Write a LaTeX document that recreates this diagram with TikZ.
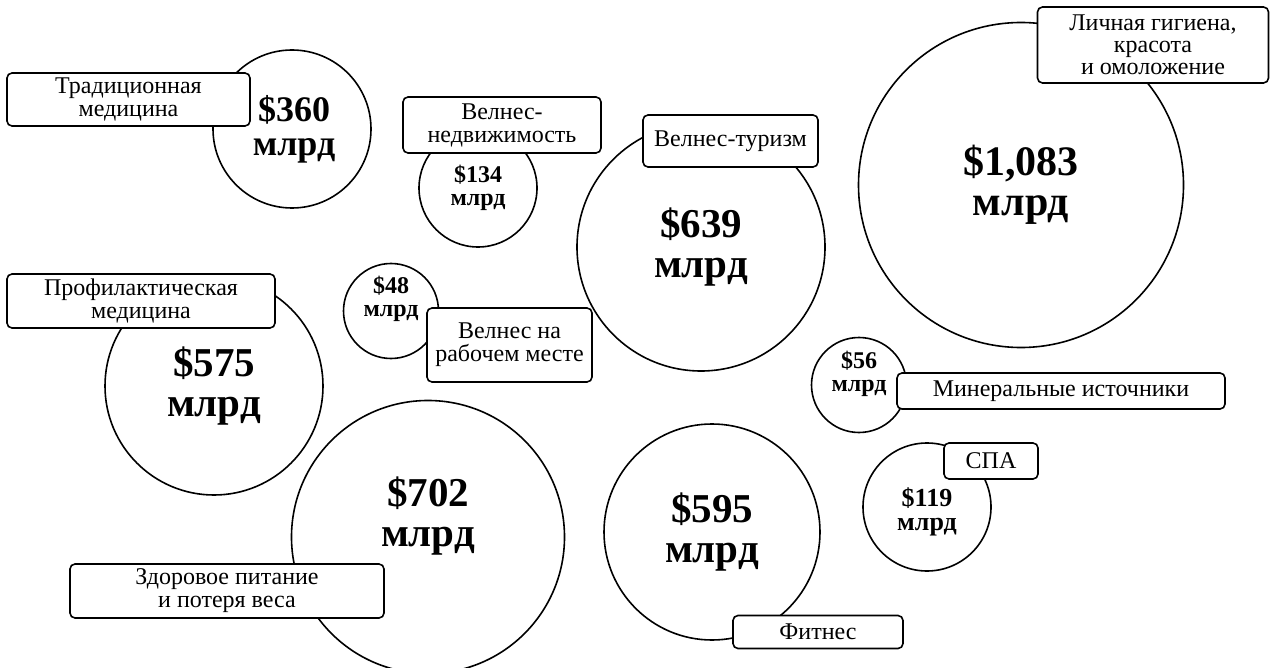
\documentclass[tikz,border=0pt]{standalone}
\usepackage{fontspec}
\setmainfont{Liberation Serif}
\usepackage{tikz}

\begin{document}
\begin{tikzpicture}[x=1pt,y=-1pt]
    \tikzstyle{bubble}=[circle, draw, line width=1.6pt, fill=white, inner sep=0pt]
    \tikzstyle{bigsum}=[align=center, inner sep=0pt, font=\bfseries\fontsize{41}{40}\selectfont]
    \tikzstyle{smallsum}=[align=center, inner sep=0pt, font=\bfseries\fontsize{24}{23}\selectfont]
    \tikzstyle{tag}=[draw, line width=1.6pt, fill=white, rounded corners=5pt, align=center, inner sep=0pt, font=\fontsize{24}{23}\selectfont]
    \useasboundingbox (0,0) rectangle (1271,668);

    % circles
    \node (C360) [bubble, minimum size=158] at (292,129) {};
    \node (C134) [bubble, minimum size=118] at (478,188) {};
    \node (C639) [bubble, minimum size=248] at (701,247) {};
    \node (C1083) [bubble, minimum size=325] at (1021,185) {};
    \node (C575) [bubble, minimum size=218] at (214,386) {};
    \node (C48) [bubble, minimum size=95] at (391,311) {};
    \node (C702) [bubble, minimum size=273] at (428,537) {};
    \node (C595) [bubble, minimum size=216] at (712,532) {};
    \node (C56) [bubble, minimum size=95] at (859,385) {};
    \node (C119) [bubble, minimum size=128] at (927,507) {};

    % sums
    \node (S360) [bigsum, font=\bfseries\fontsize{36}{34}\selectfont, xshift=2] at (C360) {\$360\\млрд};
    \node (S134) [smallsum] at (C134) {\$134\\млрд};
    \node (S639) [bigsum] at (C639) {\$639\\млрд};
    \node (S1083) [bigsum, font=\bfseries\fontsize{42}{40}\selectfont] at (C1083) {\$1,083\\млрд};
    \node (S575) [bigsum] at (C575) {\$575\\млрд};
    \node (S48) [smallsum, yshift=12] at (C48) {\$48\\млрд};
    \node (S702) [bigsum, yshift=21] at (C702) {\$702\\млрд};
    \node (S595) [bigsum] at (C595) {\$595\\млрд};
    \node (S56) [smallsum, yshift=11] at (C56) {\$56\\млрд};
    \node (S119) [smallsum, font=\bfseries\fontsize{26}{24}\selectfont, yshift=-5] at (C119) {\$119\\млрд};

    % labels
    \node (LTrad) [tag, minimum width=243, minimum height=53] at (128.5,99.5) {Традиционная\\медицина};
    \node (LNedv) [tag, minimum width=198, minimum height=56] at (502,125) {Велнес-\\недвижимость};
    \node (LTur) [tag, minimum width=175, minimum height=52] at (730.5,141) {Велнес-туризм};
    \node (LLich) [tag, minimum width=231, minimum height=76, font=\fontsize{24}{22}\selectfont] at (1153,45) {Личная гигиена,\\красота\\и омоложение};
    \node (LProf) [tag, minimum width=268, minimum height=54] at (141,301) {Профилактическая\\медицина};
    \node (LRab) [tag, minimum width=165, minimum height=74] at (509.5,345) {Велнес на\\рабочем месте};
    \node (LMin) [tag, minimum width=328, minimum height=36] at (1061,391) {Минеральные источники};
    \node (LSpa) [tag, minimum width=94, minimum height=36] at (991,461) {СПА};
    \node (LPit) [tag, minimum width=314, minimum height=54] at (227,591) {Здоровое питание\\и потеря веса};
    \node (LFit) [tag, minimum width=170, minimum height=33] at (818,632) {Фитнес};
\end{tikzpicture}
\end{document}
